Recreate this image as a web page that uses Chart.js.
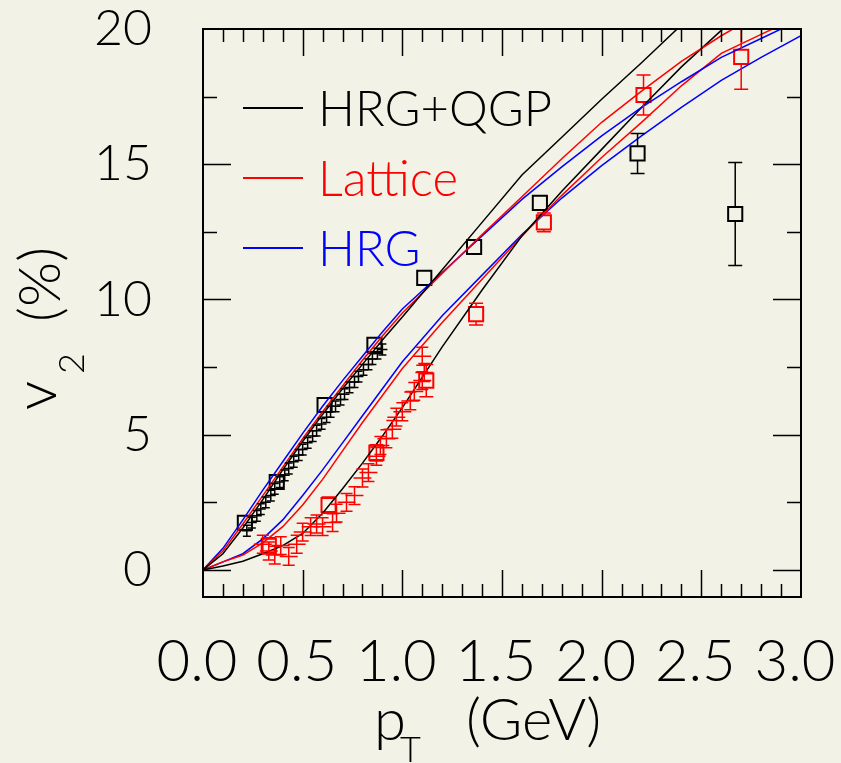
<!DOCTYPE html>
<html>
<head>
<meta charset="utf-8">
<script src="https://cdn.jsdelivr.net/npm/chart.js@4.4.1/dist/chart.umd.min.js"></script>
<style>
  html, body { margin: 0; padding: 0; background: #f2f2e6; }
  canvas { display: block; }
</style>
</head>
<body>
<canvas id="v2Chart" width="841" height="763"></canvas>
<script>
const FONT = "Lato, 'DejaVu Sans', sans-serif";
const BG = "#f2f2e6";

// curves, sampled on a shared pT grid (GeV), v2 in %
const ptGrid = [0, 0.1, 0.2, 0.3, 0.4, 0.5, 0.6, 0.7, 0.8, 0.9, 1.0, 1.2, 1.4, 1.6, 1.8, 2.0, 2.2, 2.4, 2.6, 2.8, 3.0];
const hrgQgpPion = [0, 0.6, 1.55, 2.6, 3.7, 4.75, 5.75, 6.7, 7.6, 8.5, 9.35, 11.1, 12.85, 14.6, 16.0, 17.4, 18.75, 20.15, null, null, null];
const latticePion = [0, 0.7, 1.7, 2.75, 3.8, 4.85, 5.85, 6.8, 7.75, 8.65, 9.5, 10.96, 12.4, 13.8, 15.2, 16.55, 17.7, 18.8, 19.75, 20.6, null];
const hrgPion = [0, 0.8, 1.85, 2.95, 4.0, 5.05, 6.05, 7.0, 7.9, 8.8, 9.65, 11.0, 12.35, 13.7, 14.9, 16.05, 17.1, 18.05, 18.95, 19.65, 20.35];
const hrgQgpProton = [0, 0.15, 0.32, 0.6, 0.9, 1.35, 2.1, 3.0, 3.95, 4.95, 6.0, 8.25, 10.35, 12.35, 14.0, 15.55, 17.1, 18.6, 19.95, 21.2, null];
const latticeProton = [0, 0.3, 0.55, 1.0, 1.6, 2.4, 3.35, 4.4, 5.45, 6.45, 7.45, 9.15, 10.75, 12.35, 13.85, 15.25, 16.55, 17.9, 19.1, 19.8, 20.5];
const hrgProton = [0, 0.3, 0.6, 1.15, 1.85, 2.75, 3.7, 4.7, 5.7, 6.7, 7.7, 9.4, 10.9, 12.4, 13.75, 14.95, 16.05, 17.1, 18.1, 18.95, 19.75];

// measured points
const blackSqX = [0.21, 0.37, 0.61, 0.86, 1.11, 1.36, 1.69, 2.18, 2.67];
const blackSqY = [1.74, 3.25, 6.1, 8.32, 10.8, 11.94, 13.57, 15.4, 13.16];
const blackSqErr = [0.15, 0.15, 0.15, 0.15, 0.15, 0.15, 0.2, 0.74, 1.9];
const redSqX = [0.33, 0.63, 0.87, 1.12, 1.37, 1.71, 2.21, 2.70];
const redSqY = [0.89, 2.4, 4.33, 7.0, 9.46, 12.85, 17.56, 18.97];
const redSqErr = [0.3, 0.3, 0.3, 0.6, 0.4, 0.35, 0.74, 1.2];

const blackCrossX = [0.22, 0.245, 0.27, 0.29, 0.315, 0.34, 0.36, 0.385, 0.41, 0.43, 0.455, 0.48, 0.50, 0.525, 0.55,
  0.57, 0.595, 0.62, 0.64, 0.665, 0.69, 0.71, 0.735, 0.76, 0.78, 0.805, 0.83, 0.85, 0.875, 0.90];
const blackCrossY = [1.45, 1.75, 2.0, 2.25, 2.5, 2.75, 3.0, 3.25, 3.5, 3.75, 4.0, 4.25, 4.45, 4.7, 4.95,
  5.15, 5.4, 5.65, 5.85, 6.05, 6.3, 6.5, 6.75, 6.95, 7.15, 7.4, 7.6, 7.8, 8.0, 8.15];
const redCrossX = [0.30, 0.33, 0.36, 0.39, 0.43, 0.47, 0.50, 0.54, 0.57, 0.60, 0.65, 0.67, 0.72, 0.76,
  0.80, 0.83, 0.87, 0.89, 0.92, 0.95, 0.97, 1.00, 1.04, 1.06, 1.10, 1.11, 1.10];
const redCrossY = [0.95, 0.7, 0.55, 0.9, 0.5, 0.95, 1.4, 1.6, 1.7, 1.6, 1.75, 2.1, 2.5, 2.75,
  3.4, 3.6, 4.2, 4.6, 4.85, 5.2, 5.65, 5.85, 6.25, 6.6, 7.0, 7.3, 7.9];

const legendLabels = ["HRG+QGP", "Lattice", "HRG"];
const legendColors = ["#000000", "#ff0000", "#0000ff"];
const xTickValues = [0, 0.5, 1.0, 1.5, 2.0, 2.5, 3.0];
const yTickValues = [0, 5, 10, 15, 20];

function toPoints(xs, ys) {
  return xs.map((x, i) => ({ x, y: ys[i] })).filter((p) => p.y !== null);
}

function curve(ys, color) {
  return {
    data: toPoints(ptGrid, ys),
    showLine: true,
    borderColor: color,
    borderWidth: 1.5,
    pointRadius: 0,
    tension: 0,
  };
}

function squares(xs, ys, errs, color) {
  return {
    data: toPoints(xs, ys),
    showLine: false,
    pointStyle: "rect",
    pointRadius: 10,
    borderColor: color,
    backgroundColor: "rgba(0,0,0,0)",
    pointBorderWidth: 2,
    errY: errs,
    capHalf: 7,
  };
}

function crosses(xs, ys, color, ex, ey, cap) {
  return {
    data: toPoints(xs, ys),
    showLine: false,
    pointRadius: 0,
    borderColor: color,
    crossX: ex,
    crossY: ey,
    capHalf: cap,
  };
}

const bgPlugin = {
  id: "bg",
  beforeDraw(chart) {
    const ctx = chart.ctx;
    ctx.save();
    ctx.fillStyle = BG;
    ctx.fillRect(0, 0, chart.width, chart.height);
    ctx.restore();
  },
};

const errorBars = {
  id: "errorBars",
  afterDatasetsDraw(chart) {
    const { ctx, scales: { x, y } } = chart;
    ctx.save();
    ctx.beginPath();
    ctx.rect(chart.chartArea.left, chart.chartArea.top, chart.chartArea.width, chart.chartArea.height);
    ctx.clip();
    chart.data.datasets.forEach((ds) => {
      if (!ds.errY && !ds.crossY) return;
      ctx.strokeStyle = ds.borderColor;
      ctx.lineWidth = 1.5;
      ds.data.forEach((p, j) => {
        const px = x.getPixelForValue(p.x);
        const py = y.getPixelForValue(p.y);
        const c = ds.capHalf;
        ctx.beginPath();
        if (ds.errY) {
          const top = y.getPixelForValue(p.y + ds.errY[j]);
          const bot = y.getPixelForValue(p.y - ds.errY[j]);
          if (py - top > 7) {
            ctx.moveTo(px, py - 7); ctx.lineTo(px, top);
            ctx.moveTo(px - c, top); ctx.lineTo(px + c, top);
          }
          if (bot - py > 7) {
            ctx.moveTo(px, py + 7); ctx.lineTo(px, bot);
            ctx.moveTo(px - c, bot); ctx.lineTo(px + c, bot);
          }
        } else {
          const top = y.getPixelForValue(p.y + ds.crossY);
          const bot = y.getPixelForValue(p.y - ds.crossY);
          const left = x.getPixelForValue(p.x - ds.crossX);
          const right = x.getPixelForValue(p.x + ds.crossX);
          ctx.moveTo(left, py); ctx.lineTo(right, py);
          ctx.moveTo(px, top); ctx.lineTo(px, bot);
          ctx.moveTo(px - c, top); ctx.lineTo(px + c, top);
          ctx.moveTo(px - c, bot); ctx.lineTo(px + c, bot);
        }
        ctx.stroke();
      });
    });
    ctx.restore();
  },
};

const frameAndTicks = {
  id: "frameAndTicks",
  afterDraw(chart) {
    const { ctx, chartArea: a, scales: { x, y } } = chart;
    ctx.save();
    ctx.strokeStyle = "#000";
    ctx.lineWidth = 2;
    ctx.strokeRect(a.left, a.top, a.width, a.height);
    ctx.lineWidth = 1.5;
    ctx.beginPath();
    for (let i = 1; i < 30; i++) {
      const px = Math.round(x.getPixelForValue(i / 10)) + 0.5;
      const len = i % 5 === 0 ? 27 : 13;
      ctx.moveTo(px, a.bottom); ctx.lineTo(px, a.bottom - len);
      ctx.moveTo(px, a.top); ctx.lineTo(px, a.top + len);
    }
    for (let i = 0; i < 8; i++) {
      const py = Math.round(y.getPixelForValue(i * 2.5)) + 0.5;
      const len = i % 2 === 0 ? 28 : 14;
      ctx.moveTo(a.left, py); ctx.lineTo(a.left + len, py);
      ctx.moveTo(a.right, py); ctx.lineTo(a.right - len, py);
    }
    ctx.stroke();
    ctx.restore();
  },
};

const legendPlugin = {
  id: "insideLegend",
  afterDraw(chart) {
    const ctx = chart.ctx;
    ctx.save();
    ctx.font = `300 49px ${FONT}`;
    ctx.textBaseline = "alphabetic";
    legendLabels.forEach((label, i) => {
      const yy = 108 + i * 70;
      ctx.strokeStyle = legendColors[i];
      ctx.fillStyle = legendColors[i];
      ctx.lineWidth = 2;
      ctx.beginPath();
      ctx.moveTo(243, yy);
      ctx.lineTo(303, yy);
      ctx.stroke();
      ctx.fillText(label, 318, yy + 18);
    });
    ctx.restore();
  },
};

const axisTitles = {
  id: "axisTitles",
  afterDraw(chart) {
    const ctx = chart.ctx;
    ctx.save();
    ctx.fillStyle = "#000";
    ctx.textBaseline = "alphabetic";
    ctx.font = `300 58px ${FONT}`;
    ctx.fillText("p", 374, 740);
    ctx.font = `300 36px ${FONT}`;
    ctx.fillText("T", 400, 762);
    ctx.font = `300 58px ${FONT}`;
    ctx.fillText("(GeV)", 466, 740);

    ctx.translate(56, 410);
    ctx.rotate(-Math.PI / 2);
    ctx.font = `300 58px ${FONT}`;
    ctx.fillText("v", 0, 0);
    ctx.font = `300 36px ${FONT}`;
    ctx.fillText("2", 36, 28);
    ctx.font = `300 58px ${FONT}`;
    ctx.fillText("(%)", 88, 4);
    ctx.restore();
  },
};

function createChart() {
  const ctx = document.getElementById("v2Chart").getContext("2d");
  return new Chart(ctx, {
    type: "scatter",
    data: {
      datasets: [
        curve(hrgQgpPion, "#000000"),
        curve(latticePion, "#ff0000"),
        curve(hrgPion, "#0000ff"),
        curve(hrgQgpProton, "#000000"),
        curve(latticeProton, "#ff0000"),
        curve(hrgProton, "#0000ff"),
        crosses(blackCrossX, blackCrossY, "#000000", 0.025, 0.2, 4),
        crosses(redCrossX, redCrossY, "#ff0000", 0.045, 0.33, 6),
        squares(blackSqX, blackSqY, blackSqErr, "#000000"),
        squares(redSqX, redSqY, redSqErr, "#ff0000"),
      ],
    },
    options: {
      responsive: false,
      animation: false,
      devicePixelRatio: 1,
      layout: { padding: { top: 29, right: 40, left: 0, bottom: 0 } },
      plugins: { legend: { display: false }, tooltip: { enabled: false } },
      scales: {
        x: {
          type: "linear",
          min: 0,
          max: 3,
          afterBuildTicks: (scale) => { scale.ticks = xTickValues.map((v) => ({ value: v })); },
          afterFit: (scale) => {
            scale.height = 166;
            scale.paddingLeft = 0;
            scale.paddingRight = 0;
          },
          grid: { display: false, drawTicks: false },
          border: { display: false },
          ticks: {
            color: "#000",
            font: { family: FONT, size: 58, weight: 300 },
            padding: 30,
            maxRotation: 0,
            autoSkip: false,
            labelOffset: -6,
            callback: (v) => v.toFixed(1),
          },
        },
        y: {
          type: "linear",
          min: -1,
          max: 20,
          afterBuildTicks: (scale) => { scale.ticks = yTickValues.map((v) => ({ value: v })); },
          afterFit: (scale) => {
            scale.width = 203;
            scale.paddingTop = 0;
            scale.paddingBottom = 0;
          },
          grid: { display: false, drawTicks: false },
          border: { display: false },
          ticks: {
            color: "#000",
            font: { family: FONT, size: 50, weight: 300 },
            padding: 51,
            callback: (v) => `${v}`,
          },
        },
      },
    },
    plugins: [bgPlugin, errorBars, frameAndTicks, legendPlugin, axisTitles],
  });
}

createChart();
</script>
</body>
</html>
